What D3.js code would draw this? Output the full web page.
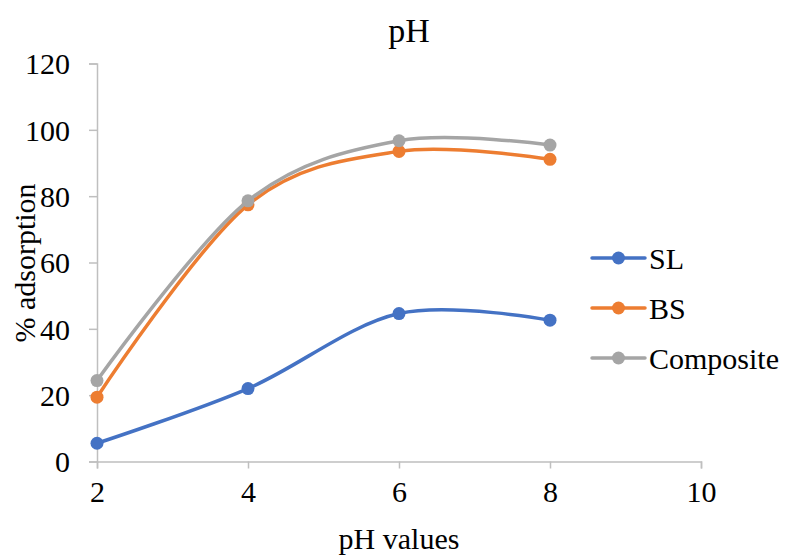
<!DOCTYPE html>
<html>
<head>
<meta charset="utf-8">
<script src="https://cdn.jsdelivr.net/npm/d3@7/dist/d3.min.js"></script>
<style>
  html, body { margin: 0; padding: 0; background: #fff; }
</style>
</head>
<body>
<svg id="chart" width="790" height="555"></svg>
<script>
// pH values on the x axis and % adsorption for each adsorbent
const phValues = [2, 4, 6, 8];
const slValues = [5.5, 22, 44.6, 42.6];
const bsValues = [19.4, 77.4, 93.5, 91.1];
const compositeValues = [24.4, 78.6, 96.7, 95.4];

const seriesNames = ["SL", "BS", "Composite"];
const seriesColors = ["#4472C4", "#ED7D31", "#A5A5A5"];

const xTicks = [2, 4, 6, 8, 10];
const yTicks = [0, 20, 40, 60, 80, 100, 120];

const series = [slValues, bsValues, compositeValues].map((vals, i) => ({
  name: seriesNames[i],
  color: seriesColors[i],
  points: phValues.map((x, j) => ({ x, y: vals[j] }))
}));

const FONT = '"Liberation Serif"';
const svg = d3.select("#chart");
const plot = { left: 97, right: 701, top: 63.5, bottom: 461.5 };

const x = d3.scaleLinear().domain([2, 10]).range([plot.left, plot.right]);
const y = d3.scaleLinear().domain([0, 120]).range([plot.bottom, plot.top]);

const axisColor = "#BFBFBF";
const fontSize = 30;

// y axis
const yAxis = svg.append("g")
  .attr("transform", `translate(${plot.left},0)`)
  .call(d3.axisLeft(y).tickValues(yTicks).tickSize(8).tickPadding(19));
yAxis.attr("font-family", null).attr("font-size", null);
yAxis.select(".domain").attr("stroke", axisColor).attr("stroke-width", 1.5);
yAxis.selectAll(".tick line").attr("stroke", axisColor).attr("stroke-width", 1.5);
yAxis.selectAll(".tick text")
  .style("font-family", FONT)
  .style("font-size", fontSize + "px")
  .attr("fill", "#000")
  .attr("dy", "0.34em");

// x axis
const xAxis = svg.append("g")
  .attr("transform", `translate(0,${plot.bottom})`)
  .call(d3.axisBottom(x).tickValues(xTicks).tickSize(7).tickPadding(12));
xAxis.attr("font-family", null).attr("font-size", null);
xAxis.select(".domain").attr("stroke", axisColor).attr("stroke-width", 1.5);
xAxis.selectAll(".tick line").attr("stroke", axisColor).attr("stroke-width", 1.5);
xAxis.selectAll(".tick text")
  .style("font-family", FONT)
  .style("font-size", fontSize + "px")
  .attr("fill", "#000");

// smoothed series lines with circular markers
const line = d3.line()
  .x(d => x(d.x))
  .y(d => y(d.y))
  .curve(d3.curveCardinal.tension(0));

const gSeries = svg.append("g");
series.forEach(s => {
  gSeries.append("path")
    .datum(s.points)
    .attr("fill", "none")
    .attr("stroke", s.color)
    .attr("stroke-width", 3.5)
    .attr("stroke-linecap", "round")
    .attr("d", line);
  gSeries.selectAll(null)
    .data(s.points)
    .join("circle")
    .attr("cx", d => x(d.x))
    .attr("cy", d => y(d.y))
    .attr("r", 6.5)
    .attr("fill", s.color);
});

function addText(xp, yp, str, size, anchor) {
  return svg.append("text")
    .attr("x", xp)
    .attr("y", yp)
    .attr("text-anchor", anchor || "middle")
    .style("font-family", FONT)
    .style("font-size", size + "px")
    .attr("fill", "#000")
    .text(str);
}

// title
addText(409, 42, "pH", 34);

// axis titles
addText(399, 549, "pH values", fontSize);
addText(0, 0, "% adsorption", fontSize)
  .attr("transform", "translate(35,263) rotate(-90)");

// legend
const legend = svg.append("g");
series.forEach((s, i) => {
  const ly = 258 + i * 50;
  legend.append("line")
    .attr("x1", 592).attr("x2", 645)
    .attr("y1", ly).attr("y2", ly)
    .attr("stroke", s.color)
    .attr("stroke-width", 3.5)
    .attr("stroke-linecap", "round");
  legend.append("circle")
    .attr("cx", 618.5).attr("cy", ly)
    .attr("r", 6.5)
    .attr("fill", s.color);
  addText(649, ly + 10.5, s.name, fontSize, "start");
});
</script>
</body>
</html>
